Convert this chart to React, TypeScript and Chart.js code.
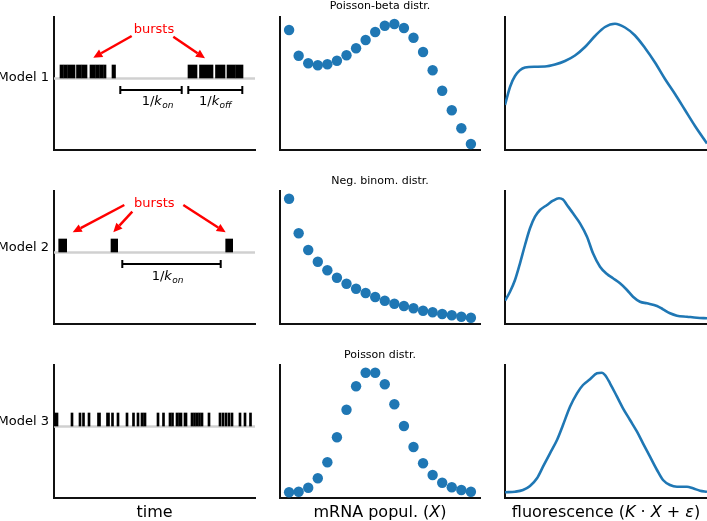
import React, { useEffect, useRef } from 'react';
import { Chart, registerables } from 'chart.js';

Chart.register(...registerables);

const FONT = "'DejaVu Sans', Verdana, sans-serif";
const BLUE = '#1f77b4';
const PAD = 8;

// ---------- column 1: burst time series (time units) ----------
const model1Bursts: [number, number][] = [
  [6, 9.5], [10, 13.5], [14, 21], [22.5, 27], [27.5, 33], [36, 41], [41.5, 45], [45.5, 49], [49.5, 52],
  [58, 61.5], [134, 143], [145.5, 159], [161.5, 171], [173, 181], [181.5, 189],
];
const model2Bursts: [number, number][] = [[4.7, 12.7], [57, 63.7], [171.7, 178.7]];
const model3Bursts: [number, number][] = [
  [0, 4], [17, 19], [25, 27], [28.5, 30.5], [34, 36], [43.5, 46.5], [52.5, 55.5], [57.5, 59.5], [63, 65],
  [72, 74], [78.5, 80.5], [83, 85], [87, 89], [89.5, 92], [103, 105], [108.5, 110.5], [115, 117],
  [117.5, 119.5], [122, 124], [124.5, 128], [130, 133], [137, 139], [139.5, 141.5], [142, 144],
  [144.5, 146.5], [147, 149], [154, 156], [165, 167], [168, 170], [171, 173], [174, 176], [177, 179],
  [185, 187], [190, 192], [195.5, 197.5],
];
const TIME_RANGE = [0, 201];
const BASELINE_LEVEL = 71.5;
const BURST_LEVEL = 78.5;

// annotations (time units / panel units)
const model1Arrows = [[77.7, 114, 39.3, 92.3], [119.3, 113.3, 151, 91.7]];
const model2Arrows = [[70.3, 119, 18.7, 91.7], [78.3, 112.3, 59.3, 91.7], [129.3, 119, 171.7, 91.7]];
const model1BurstLabel = [100, 117.3];
const model2BurstLabel = [100.3, 117.3];
const model1Rates = [
  { from: 66.3, to: 127.7, level: 60, sub: 'on', tx: 87.7, tv: 45 },
  { from: 134.3, to: 188.3, level: 60, sub: 'off', tx: 145, tv: 45 },
];
const model2Rates = [{ from: 68.3, to: 166.7, level: 59.7, sub: 'on', tx: 97.7, tv: 44 }];

// ---------- column 2: mRNA distributions ----------
const mrnaCounts = [0, 1, 2, 3, 4, 5, 6, 7, 8, 9, 10, 11, 12, 13, 14, 15, 16, 17, 18, 19];
const poissonBeta = [120, 94.3, 86.7, 84.7, 85.7, 89.3, 94.7, 101.7, 110, 118, 124.3, 126, 122, 112.3, 98, 79.7, 59.3, 39.7, 21.7, 6];
const negBinom = [125.3, 90.7, 74, 62.3, 53.7, 46.3, 40.3, 35.3, 31, 27, 23.3, 20.3, 18, 15.7, 13.3, 11.7, 10, 8.7, 7.3, 6.3];
const poisson = [5.7, 6.3, 10.3, 19.7, 35.7, 60.7, 88.3, 111.7, 125.3, 125.3, 113.7, 93.7, 72, 51, 34.7, 23, 15.3, 10.7, 8, 6.3];

// ---------- column 3: fluorescence densities ----------
const fluo1X = [0, 5, 10, 20, 30, 40, 50, 60, 70, 80, 90, 100, 110, 120, 130, 140, 150, 160, 170, 180, 190, 202];
const fluo1Y = [45, 63, 74, 82.5, 83.3, 83.5, 85.5, 89, 94.5, 103, 114, 123, 126.3, 122.5, 114.5, 102, 87.5, 71, 56, 40, 24, 6.5];
const fluo2X = [0, 5, 10, 15, 20, 25, 30, 35, 42, 48, 54, 58, 62, 68, 75, 82, 88, 95, 102, 108, 115, 122, 128, 135, 142, 152, 158, 165, 172, 182, 192, 202];
const fluo2Y = [23.3, 32.3, 44, 60.7, 79, 95.7, 107.3, 114, 119, 123.3, 125.7, 124.5, 119, 110.7, 100.7, 87.3, 70.7, 57.3, 50, 45.7, 40.7, 34, 27.3, 22.3, 20.7, 18, 14.7, 10.7, 8.3, 7.3, 6.3, 5.7];
const fluo3X = [0, 10, 18, 25, 32, 38, 45, 52, 58, 65, 72, 78, 85, 92, 97, 100, 105, 112, 118, 125, 132, 138, 145, 152, 158, 165, 172, 182, 188, 195, 202];
const fluo3Y = [5.7, 6.3, 8, 12, 19.7, 31.3, 44.7, 58, 73, 91.3, 104.7, 113, 118.7, 124.7, 125.3, 123, 114.7, 101.3, 89.7, 78, 66.3, 54.7, 41.3, 28, 18, 13, 11.3, 11.3, 9.7, 7.3, 6.3];

// ---------- text ----------
const modelLabels = ['Model 1', 'Model 2', 'Model 3'];
const distTitles = ['Poisson-beta distr.', 'Neg. binom. distr.', 'Poisson distr.'];

// ---------- layout ----------
const COLS = [{ l: 54, w: 201 }, { l: 280, w: 200 }, { l: 505, w: 202 }];
const ROWS = [{ t: 17, h: 133 }, { t: 191, h: 133 }, { t: 365, h: 133 }];

const axis = (min: number, max: number) => ({
  type: 'linear',
  min,
  max,
  offset: false,
  grid: { display: false, drawTicks: false },
  ticks: { display: false },
  border: { display: true, color: '#111', width: 2 },
});

const baseOptions = (xr: number[], yr: number[], extra: any = {}) => ({
  animation: false,
  responsive: false,
  maintainAspectRatio: false,
  events: [],
  layout: { padding: PAD },
  plugins: { legend: { display: false }, tooltip: { enabled: false }, title: { display: false } },
  scales: { x: axis(xr[0], xr[1]), y: axis(yr[0], yr[1]) },
  ...extra,
});

function drawArrow(ctx: CanvasRenderingContext2D, x0: number, y0: number, x1: number, y1: number) {
  const ang = Math.atan2(y1 - y0, x1 - x0);
  const hl = 9, hw = 4.2;
  const bx = x1 - hl * Math.cos(ang), by = y1 - hl * Math.sin(ang);
  ctx.strokeStyle = '#ff0000';
  ctx.fillStyle = '#ff0000';
  ctx.lineWidth = 2.5;
  ctx.beginPath();
  ctx.moveTo(x0, y0);
  ctx.lineTo(bx, by);
  ctx.stroke();
  ctx.beginPath();
  ctx.moveTo(x1, y1);
  ctx.lineTo(bx + hw * Math.sin(ang), by - hw * Math.cos(ang));
  ctx.lineTo(bx - hw * Math.sin(ang), by + hw * Math.cos(ang));
  ctx.closePath();
  ctx.fill();
}

const annotationPlugin = (arrows: number[][], label: number[], rates: any[]) => ({
  id: 'burstAnnotations',
  afterDatasetsDraw(chart: any) {
    const { ctx, scales } = chart;
    const X = (v: number) => scales.x.getPixelForValue(v);
    const Y = (v: number) => scales.y.getPixelForValue(v);
    ctx.save();
    arrows.forEach(([a, b, c, d]) => drawArrow(ctx, X(a), Y(b), X(c), Y(d)));
    ctx.fillStyle = '#ff0000';
    ctx.font = `13px ${FONT}`;
    ctx.textAlign = 'center';
    ctx.textBaseline = 'alphabetic';
    ctx.fillText('bursts', X(label[0]), Y(label[1]));
    rates.forEach((r) => {
      const y = Math.round(Y(r.level));
      const x0 = X(r.from), x1 = X(r.to);
      ctx.strokeStyle = '#000';
      ctx.lineWidth = 2;
      ctx.beginPath();
      ctx.moveTo(x0, y);
      ctx.lineTo(x1, y);
      ctx.moveTo(x0, y - 4);
      ctx.lineTo(x0, y + 4);
      ctx.moveTo(x1, y - 4);
      ctx.lineTo(x1, y + 4);
      ctx.stroke();
      ctx.fillStyle = '#000';
      ctx.textAlign = 'left';
      const tx = X(r.tx), ty = Y(r.tv);
      ctx.font = `13px ${FONT}`;
      ctx.fillText('1/', tx, ty);
      let w = ctx.measureText('1/').width;
      ctx.font = `italic 13px ${FONT}`;
      ctx.fillText('k', tx + w, ty);
      w += ctx.measureText('k').width;
      ctx.font = `italic 9px ${FONT}`;
      ctx.fillText(r.sub, tx + w + 0.3, ty + 3);
    });
    ctx.restore();
  },
});

const burstConfig = (bursts: [number, number][], arrows: number[][] | null, label: number[] | null, rates: any[] | null) => ({
  type: 'bar',
  data: {
    datasets: [
      {
        type: 'line',
        data: [{ x: TIME_RANGE[0], y: BASELINE_LEVEL }, { x: TIME_RANGE[1], y: BASELINE_LEVEL }],
        borderColor: '#d0d0d0',
        borderWidth: 2.5,
        pointRadius: 0,
        order: 2,
      },
      {
        type: 'bar',
        indexAxis: 'y',
        data: bursts.map(([s, e]) => ({ x: [s, e], y: BURST_LEVEL })),
        backgroundColor: '#000',
        borderWidth: 0,
        barThickness: 13,
        order: 1,
      },
    ],
  },
  options: baseOptions(TIME_RANGE, [0, 133]),
  plugins: arrows ? [annotationPlugin(arrows, label!, rates!)] : [],
});

const scatterConfig = (vals: number[]) => ({
  type: 'scatter',
  data: {
    datasets: [
      {
        data: mrnaCounts.map((c, i) => ({ x: c, y: vals[i] })),
        backgroundColor: BLUE,
        borderWidth: 0,
        pointRadius: 5.2,
      },
    ],
  },
  options: baseOptions([-0.95, 19.95], [0, 133]),
});

const lineConfig = (xs: number[], ys: number[]) => ({
  type: 'line',
  data: {
    datasets: [
      {
        data: xs.map((x, i) => ({ x, y: ys[i] })),
        borderColor: BLUE,
        borderWidth: 2.6,
        pointRadius: 0,
        cubicInterpolationMode: 'monotone',
        fill: false,
      },
    ],
  },
  options: baseOptions([0, 202], [0, 133]),
});

const PANELS = [
  { r: 0, c: 0, cfg: () => burstConfig(model1Bursts, model1Arrows, model1BurstLabel, model1Rates) },
  { r: 0, c: 1, cfg: () => scatterConfig(poissonBeta) },
  { r: 0, c: 2, cfg: () => lineConfig(fluo1X, fluo1Y) },
  { r: 1, c: 0, cfg: () => burstConfig(model2Bursts, model2Arrows, model2BurstLabel, model2Rates) },
  { r: 1, c: 1, cfg: () => scatterConfig(negBinom) },
  { r: 1, c: 2, cfg: () => lineConfig(fluo2X, fluo2Y) },
  { r: 2, c: 0, cfg: () => burstConfig(model3Bursts, null, null, null) },
  { r: 2, c: 1, cfg: () => scatterConfig(poisson) },
  { r: 2, c: 2, cfg: () => lineConfig(fluo3X, fluo3Y) },
];

function Label({ x, y, size, align = 'center', w = 300, color = '#000', children }: any) {
  const h = Math.round(size * 1.4);
  const left = align === 'center' ? x - w / 2 : align === 'right' ? x - w : x;
  return (
    <div
      style={{
        position: 'absolute',
        left,
        top: y - h / 2,
        width: w,
        height: h,
        lineHeight: `${h}px`,
        fontSize: size,
        textAlign: align,
        whiteSpace: 'nowrap',
        color,
        fontFamily: FONT,
      }}
    >
      {children}
    </div>
  );
}

const modelLabelY = [76.5, 247, 421];
const titleY = [5, 180, 354];

export default function App() {
  const refs = useRef<(HTMLCanvasElement | null)[]>([]);
  useEffect(() => {
    const charts = PANELS.map((p, i) => new Chart(refs.current[i] as HTMLCanvasElement, p.cfg() as any));
    return () => charts.forEach((ch) => ch.destroy());
  }, []);

  return (
    <div
      style={{
        position: 'fixed',
        left: 0,
        top: 0,
        width: 707,
        height: 521,
        overflow: 'hidden',
        background: '#fff',
        fontFamily: FONT,
      }}
    >
      {PANELS.map((p, i) => {
        const col = COLS[p.c];
        const row = ROWS[p.r];
        return (
          <canvas
            key={i}
            ref={(el) => {
              refs.current[i] = el;
            }}
            width={col.w + 2 * PAD}
            height={row.h + 2 * PAD}
            style={{ position: 'absolute', left: col.l - PAD, top: row.t - PAD, width: col.w + 2 * PAD, height: row.h + 2 * PAD }}
          />
        );
      })}
      {modelLabels.map((m, i) => (
        <Label key={m} x={49} y={modelLabelY[i]} size={13} align="right" w={120}>
          {m}
        </Label>
      ))}
      {distTitles.map((t, i) => (
        <Label key={t} x={380} y={titleY[i]} size={11}>
          {t}
        </Label>
      ))}
      <Label x={154.5} y={512} size={16}>time</Label>
      <Label x={380} y={512} size={16}>
        mRNA popul. (<i>X</i>)
      </Label>
      <Label x={606} y={512} size={16}>
        fluorescence (<i>K</i> · <i>X</i> + <i>ε</i>)
      </Label>
    </div>
  );
}
